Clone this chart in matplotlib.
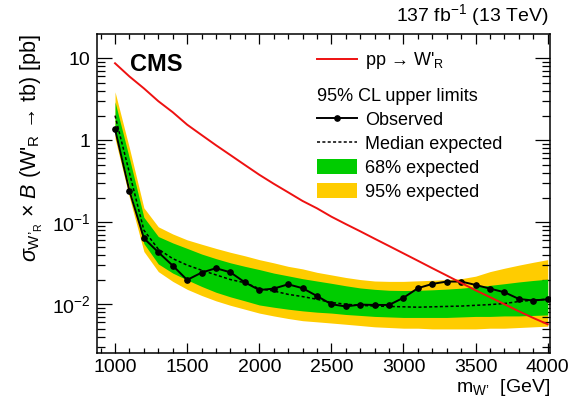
import numpy as np
import matplotlib
matplotlib.use("Agg")
import matplotlib.pyplot as plt
from matplotlib.lines import Line2D
from matplotlib.patches import Patch
from matplotlib.ticker import MultipleLocator, LogLocator, FuncFormatter, NullFormatter

plt.rcParams['font.family'] = ['Liberation Sans', 'DejaVu Sans']
plt.rcParams['mathtext.fontset'] = 'custom'
plt.rcParams['mathtext.rm'] = 'Liberation Sans'
plt.rcParams['mathtext.it'] = 'Liberation Sans:italic'
plt.rcParams['mathtext.bf'] = 'Liberation Sans:bold'

# W' mass points [GeV]
mass = np.arange(1000, 4001, 100)

# theory cross section pp -> W'_R  [pb]
theory = [8.7, 6.0, 4.3, 3.0, 2.2, 1.55, 1.16, 0.87, 0.66, 0.50, 0.38,
          0.295, 0.232, 0.182, 0.148, 0.117, 0.095, 0.0776, 0.063, 0.0513,
          0.0417, 0.0339, 0.0275, 0.0224, 0.0182, 0.0148, 0.0122, 0.0100,
          0.0082, 0.0068, 0.0057]

# observed 95% CL upper limit [pb]
observed = [1.36, 0.241, 0.0638, 0.0431, 0.0296, 0.0198, 0.0243, 0.0275,
            0.0245, 0.0185, 0.0149, 0.0155, 0.0175, 0.0157, 0.0126, 0.0100,
            0.0094, 0.0099, 0.0098, 0.0098, 0.0120, 0.0157, 0.0177, 0.0189,
            0.0189, 0.0172, 0.0155, 0.0140, 0.0116, 0.0111, 0.0115]

# expected limit: median and 68% / 95% bands [pb]
exp_median = [2.0, 0.40, 0.080, 0.047, 0.036, 0.030, 0.026, 0.0228, 0.020,
              0.0183, 0.0155, 0.0145, 0.0132, 0.0124, 0.0115, 0.0105, 0.0100,
              0.0097, 0.0095, 0.0094, 0.0093, 0.0092, 0.0093, 0.0094, 0.0095,
              0.0097, 0.0099, 0.0102, 0.0108, 0.0112, 0.0115]
exp_68_hi = [2.95, 0.60, 0.115, 0.067, 0.056, 0.048, 0.041, 0.036, 0.032,
             0.029, 0.0265, 0.0240, 0.0222, 0.0205, 0.0192, 0.0180, 0.0168,
             0.0158, 0.0152, 0.0148, 0.0147, 0.0148, 0.0150, 0.0153, 0.0157,
             0.0163, 0.0170, 0.0178, 0.0187, 0.0195, 0.0202]
exp_68_lo = [1.30, 0.27, 0.055, 0.031, 0.024, 0.0198, 0.0165, 0.0140,
             0.0123, 0.0110, 0.0098, 0.0092, 0.0087, 0.0083, 0.0080, 0.0078,
             0.0075, 0.0073, 0.0071, 0.0070, 0.0069, 0.0069, 0.0069, 0.0069,
             0.0070, 0.0071, 0.0071, 0.0072, 0.0072, 0.0073, 0.0074]
exp_95_hi = [3.9, 0.80, 0.15, 0.088, 0.072, 0.061, 0.054, 0.048, 0.043,
             0.039, 0.035, 0.032, 0.029, 0.027, 0.0245, 0.0228, 0.0212,
             0.0200, 0.0192, 0.0190, 0.0190, 0.0193, 0.0196, 0.0200, 0.0205,
             0.0220, 0.0250, 0.0275, 0.0300, 0.0325, 0.0350]
exp_95_lo = [1.05, 0.20, 0.044, 0.025, 0.019, 0.0152, 0.0128, 0.0110,
             0.0097, 0.0087, 0.0078, 0.0072, 0.0067, 0.0063, 0.0061, 0.0059,
             0.0057, 0.0055, 0.0053, 0.0052, 0.0051, 0.0051, 0.0050, 0.0050,
             0.0050, 0.0050, 0.0051, 0.0051, 0.0052, 0.0053, 0.0054]

green = '#00cc00'
yellow = '#ffcc00'
red = '#ee1111'

fig = plt.figure(figsize=(5.73, 3.98), dpi=100)
ax = fig.add_axes([0.1698, 0.1123, 0.7901, 0.8023])

ax.fill_between(mass, exp_95_lo, exp_95_hi, color=yellow, lw=0, zorder=1)
ax.fill_between(mass, exp_68_lo, exp_68_hi, color=green, lw=0, zorder=2)
ax.plot(mass, exp_median, color='black', ls=(0, (2, 1.5)), lw=1.1, zorder=3)
ax.plot(mass, observed, color='black', lw=1.4, marker='o', ms=3.8, zorder=4)
ax.plot(mass, theory, color=red, lw=1.4, zorder=5)

ax.set_yscale('log')
ax.set_xlim(877, 4016)
ax.set_ylim(0.00252, 19.8)

ax.xaxis.set_major_locator(MultipleLocator(500))
ax.xaxis.set_minor_locator(MultipleLocator(100))
ax.yaxis.set_major_locator(LogLocator(base=10, numticks=10))
ax.yaxis.set_minor_locator(LogLocator(base=10, subs=np.arange(2, 10), numticks=20))
ax.yaxis.set_minor_formatter(NullFormatter())


def ylabel_fmt(v, pos):
    if np.isclose(v, 10):
        return '10'
    if np.isclose(v, 1):
        return '1'
    return r'10$^{%d}$' % int(round(np.log10(v)))


ax.yaxis.set_major_formatter(FuncFormatter(ylabel_fmt))

ax.tick_params(axis='both', which='both', direction='in', top=True, right=True,
               labelsize=14, width=0.9)
ax.tick_params(axis='x', which='major', length=7.5, pad=4)
ax.tick_params(axis='x', which='minor', length=3.8)
ax.tick_params(axis='y', which='major', length=11, pad=5)
ax.tick_params(axis='y', which='minor', length=5.5)
for sp in ax.spines.values():
    sp.set_linewidth(1.1)

ax.set_xlabel(r'm$_{\mathrm{W’}}$  [GeV]', fontsize=14, loc='right', labelpad=1)
ax.set_ylabel(r'$\sigma_{\mathrm{W’}_{\mathrm{R}}}$ × $\mathit{B}$ '
              r"(W'$_{\mathrm{R}}$ → tb) [pb]",
              fontsize=15.5, loc='top', labelpad=5)

ax.text(0.073, 0.905, 'CMS', transform=ax.transAxes, fontsize=17,
        fontweight='bold', va='center', ha='left')
fig.text(0.958, 0.962, r'137 fb$^{-1}$ (13 TeV)', fontsize=14,
         ha='right', va='center')

# legends
h_theory = [Line2D([], [], color=red, lw=1.4)]
leg1 = ax.legend(h_theory, [r"pp → W'$_{\mathrm{R}}$"],
                 loc='upper left', bbox_to_anchor=(317 / 573, 1 - 50 / 398),
                 bbox_transform=fig.transFigure, frameon=False, fontsize=13,
                 borderpad=0, borderaxespad=0, handlelength=2.2,
                 handletextpad=0.45)
ax.add_artist(leg1)

h_lim = [Line2D([], [], color='black', lw=1.4, marker='o', ms=3.8),
         Line2D([], [], color='black', ls=(0, (2, 1.5)), lw=1.1),
         Patch(facecolor=green, edgecolor='none'),
         Patch(facecolor=yellow, edgecolor='none')]
ax.legend(h_lim, ['Observed', 'Median expected', '68% expected', '95% expected'],
          title='95% CL upper limits', title_fontsize=13, alignment='left',
          loc='upper left', bbox_to_anchor=(317 / 573, 1 - 88 / 398),
          bbox_transform=fig.transFigure, frameon=False, fontsize=13,
          borderpad=0, borderaxespad=0, handlelength=2.2, handleheight=0.9,
          handletextpad=0.45, labelspacing=0.35)

fig.savefig('out.png', dpi=100)
